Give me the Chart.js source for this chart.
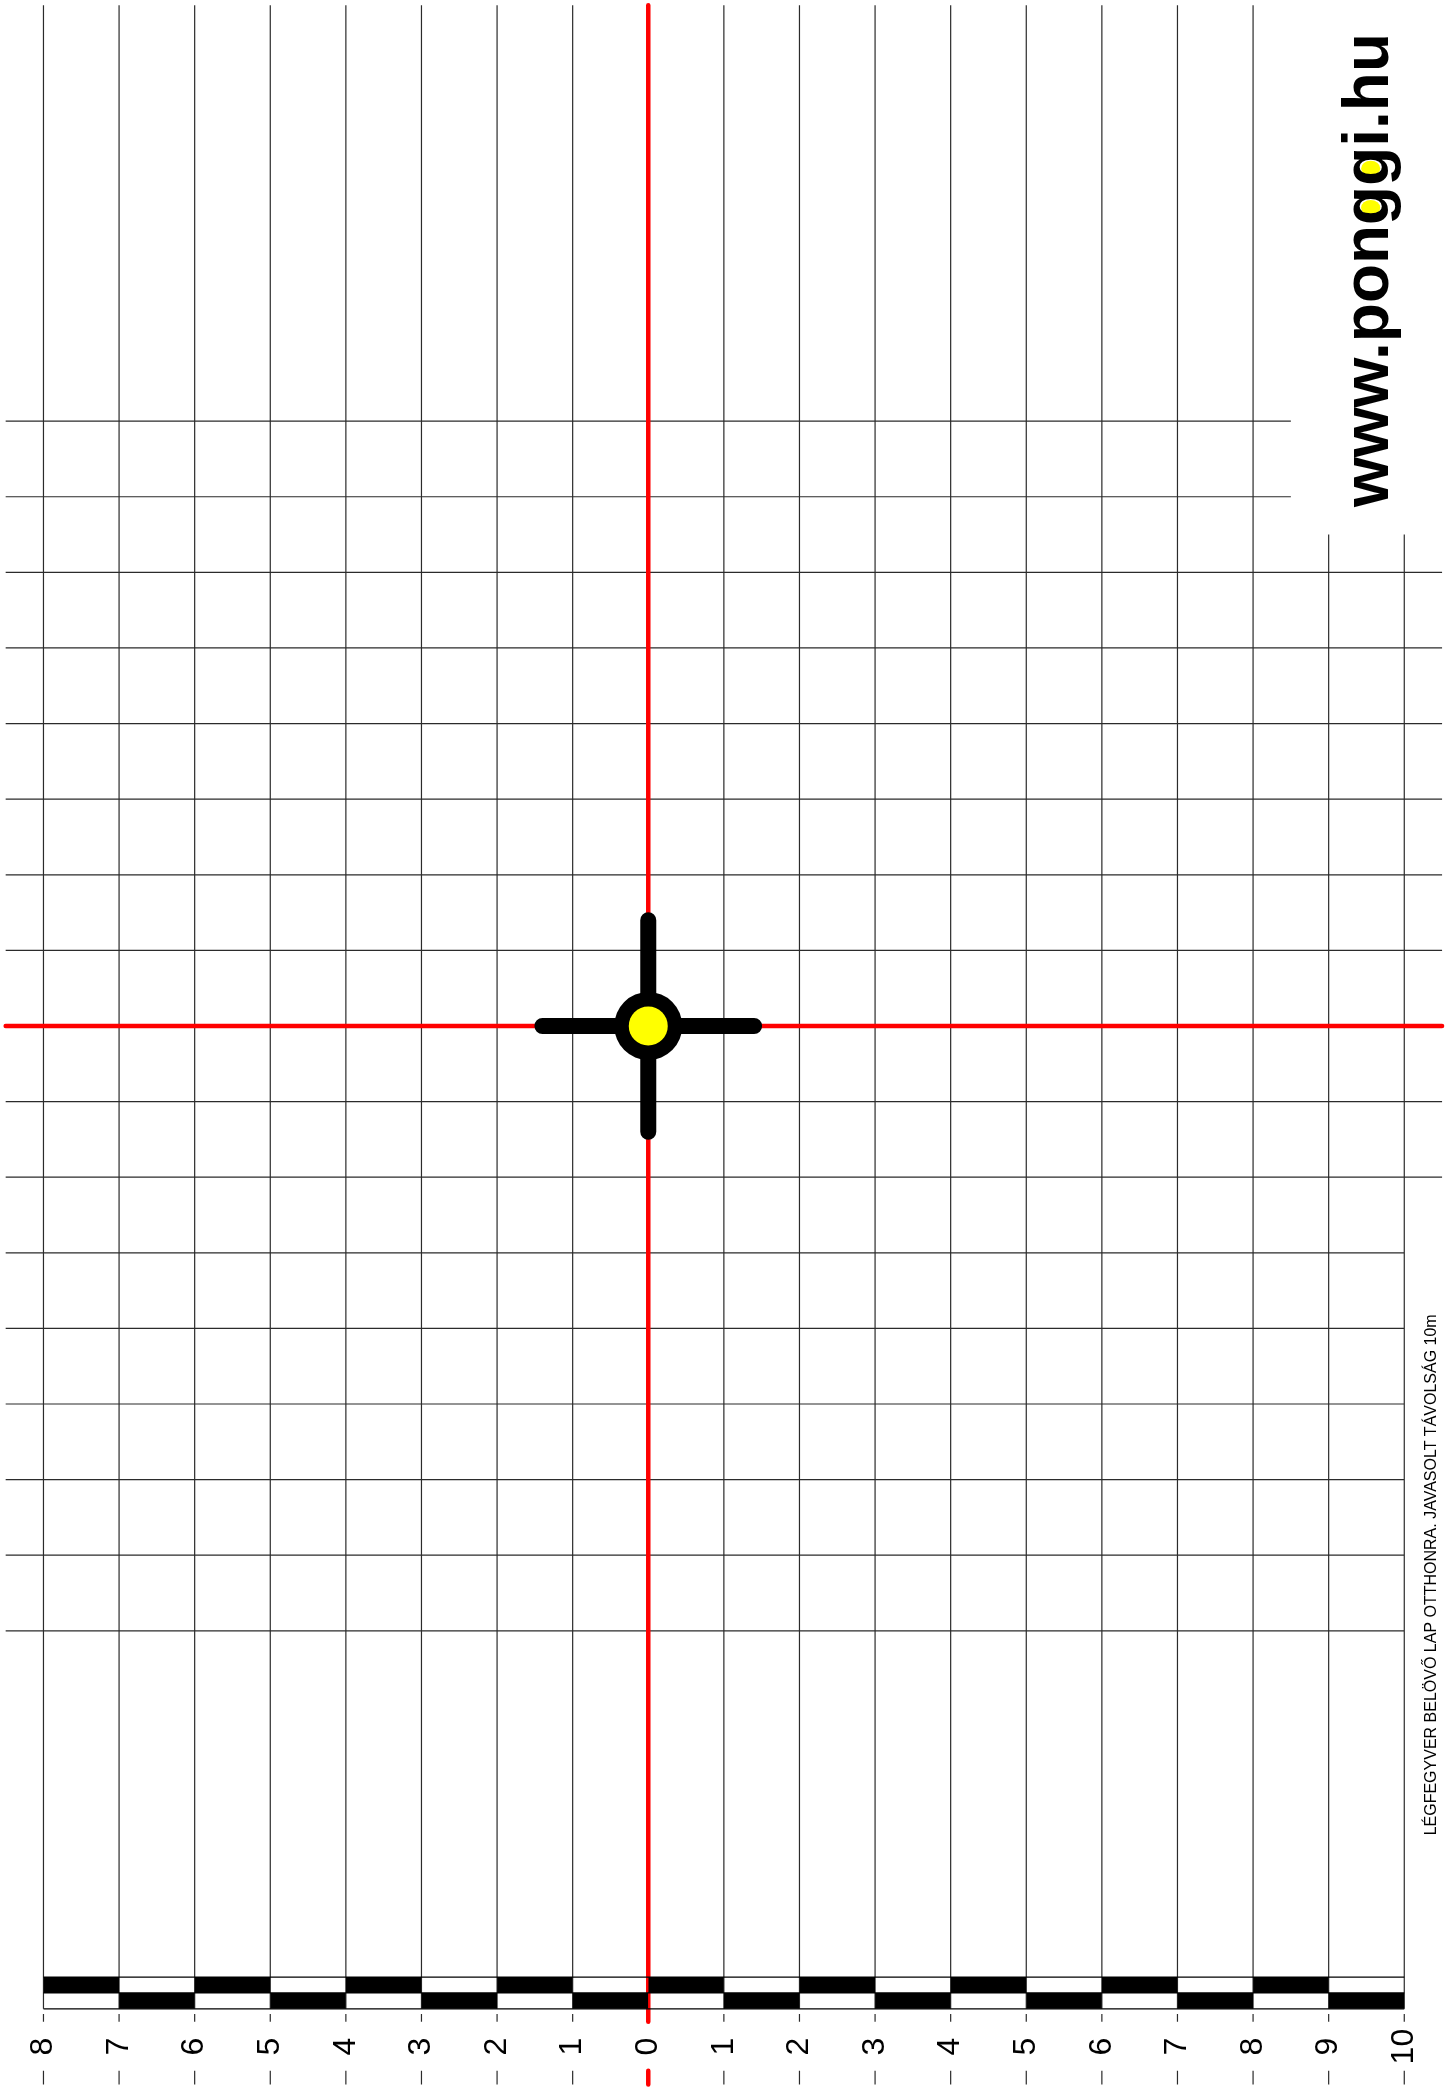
<!DOCTYPE html>
<html>
<head>
<meta charset="utf-8">
<title>Légfegyver belövő lap</title>
<script src="https://cdn.jsdelivr.net/npm/chart.js@4.4.1/dist/chart.umd.min.js"></script>
<style>
  html, body { margin: 0; padding: 0; background: #fff; }
  #wrap { width: 1446px; height: 2089px; position: relative; }
</style>
</head>
<body>
<div id="wrap"><canvas id="lap"></canvas></div>
<script>
// racs: 1 egyseg = 1 negyzet, kozeppont (0,0)
var oszlopok = [-8,-7,-6,-5,-4,-3,-2,-1,0,1,2,3,4,5,6,7,8,9,10];
var oszlopTeteje = [13.5,13.5,13.5,13.5,13.5,13.5,13.5,13.5,13.5,13.5,13.5,13.5,13.5,13.5,13.5,13.5,13.5,6.5,6.5];
var oszlopAlja = -13;

var sorok = [8,7,6,5,4,3,2,1,0,-1,-2,-3,-4,-5,-6,-7,-8];
var sorBal = -8.5;
var sorJobb = [8.5,8.5,10.5,10.5,10.5,10.5,10.5,10.5,10.5,10.5,10.5,10,10,10,10,10,10];

var cimkek = ['8','7','6','5','4','3','2','1','0','1','2','3','4','5','6','7','8','9','10'];

// sakktabla csik (fekete mezok kezdete)
var feketeFelso = [-8,-6,-4,-2,0,2,4,6,8];
var feketeAlso = [-7,-5,-3,-1,1,3,5,7,9];
var csikSzelek = [-12.58, -12.79, -13.0];

var karHossz = 1.4;

var szurke = '#2b2b2b';
var piros = '#ff0000';

// szurke racsvonalak
var racs = [];
oszlopok.forEach(function(x, i) {
  racs.push({x: x, y: oszlopTeteje[i]}, {x: x, y: oszlopAlja}, {x: x, y: null});
});
sorok.forEach(function(y, i) {
  if (y == 0) return;
  racs.push({x: sorBal, y: y}, {x: sorJobb[i], y: y}, {x: sorJobb[i], y: null});
});

// kis jelek a csik alatt
var jelek = [];
oszlopok.forEach(function(x) {
  if (x == 0) return;
  jelek.push({x: x, y: -13.07}, {x: x, y: -13.17}, {x: x, y: null});
  jelek.push({x: x, y: -13.82}, {x: x, y: -14.0}, {x: x, y: null});
});

var csikVonal = [];
csikSzelek.forEach(function(y) {
  csikVonal.push({x: -8, y: y}, {x: 10, y: y}, {x: 10, y: null});
});

var pirosVonal = [
  {x: 0, y: 13.5}, {x: 0, y: -13.17}, {x: 0, y: null},
  {x: 0, y: -13.82}, {x: 0, y: -14.0}, {x: 0, y: null},
  {x: sorBal, y: 0}, {x: 10.5, y: 0}
];

var karok = [
  {x: -karHossz, y: 0}, {x: karHossz, y: 0}, {x: 0, y: null},
  {x: 0, y: karHossz}, {x: 0, y: -karHossz}
];

var datasets = [];

datasets.push({ data: [{x: 0, y: 0}], showLine: false, pointRadius: 19.5, pointBackgroundColor: '#ffff00', pointBorderWidth: 0, order: 0 });
datasets.push({ data: [{x: 0, y: 0}], showLine: false, pointRadius: 34, pointBackgroundColor: '#000', pointBorderWidth: 0, order: 1 });
datasets.push({ data: karok, borderColor: '#000', borderWidth: 16, borderCapStyle: 'round', pointRadius: 0, order: 2 });
datasets.push({ data: csikVonal, borderColor: '#000', borderWidth: 1.3, pointRadius: 0, order: 3 });

feketeFelso.forEach(function(s) {
  datasets.push({ data: [{x: s, y: csikSzelek[0]}, {x: s + 1, y: csikSzelek[0]}], borderWidth: 0, pointRadius: 0,
    fill: {value: csikSzelek[1]}, backgroundColor: '#000', order: 4 });
});
feketeAlso.forEach(function(s) {
  datasets.push({ data: [{x: s, y: csikSzelek[1]}, {x: s + 1, y: csikSzelek[1]}], borderWidth: 0, pointRadius: 0,
    fill: {value: csikSzelek[2]}, backgroundColor: '#000', order: 4 });
});

datasets.push({ data: pirosVonal, borderColor: piros, borderWidth: 4.5, borderCapStyle: 'round', pointRadius: 0, order: 5 });
datasets.push({ data: jelek, borderColor: szurke, borderWidth: 1.2, pointRadius: 0, order: 6 });
datasets.push({ data: racs, borderColor: szurke, borderWidth: 1.2, pointRadius: 0, order: 7 });

var feliratok = {
  id: 'feliratok',
  afterDatasetsDraw: function(chart) {
    var ctx = chart.ctx;
    var sx = chart.scales.x, sy = chart.scales.y;

    // skala szamok, elforgatva
    ctx.save();
    ctx.fillStyle = '#000';
    ctx.font = '32px "Liberation Sans", Arial, sans-serif';
    ctx.textAlign = 'center';
    ctx.textBaseline = 'middle';
    oszlopok.forEach(function(x, i) {
      ctx.save();
      ctx.translate(sx.getPixelForValue(x), sy.getPixelForValue(-13.5));
      ctx.rotate(-Math.PI / 2);
      ctx.fillText(cimkek[i], 0, 0);
      ctx.restore();
    });
    ctx.restore();

    // www.ponggi.hu
    var szoveg = 'www.ponggi.hu';
    var fs = 64;
    ctx.save();
    ctx.translate(sx.getPixelForValue(9.78), sy.getPixelForValue(10.0));
    ctx.rotate(-Math.PI / 2);
    ctx.font = 'bold ' + fs + 'px "Liberation Sans", Arial, sans-serif';
    var w = ctx.measureText(szoveg).width;
    ctx.fillStyle = '#ffff00';
    [7, 8].forEach(function(idx) {
      var off = ctx.measureText(szoveg.slice(0, idx)).width;
      ctx.beginPath();
      ctx.ellipse(-w / 2 + off + 0.27 * fs, -0.265 * fs, 0.12 * fs, 0.15 * fs, 0, 0, Math.PI * 2);
      ctx.fill();
    });
    ctx.fillStyle = '#000';
    ctx.textAlign = 'left';
    ctx.textBaseline = 'alphabetic';
    ctx.fillText(szoveg, -w / 2, 0);
    ctx.restore();

    // kis felirat
    ctx.save();
    ctx.translate(sx.getPixelForValue(10.42), sy.getPixelForValue(-7.26));
    ctx.rotate(-Math.PI / 2);
    ctx.font = '16px "Liberation Sans", Arial, sans-serif';
    ctx.fillStyle = '#000';
    ctx.textAlign = 'center';
    ctx.textBaseline = 'alphabetic';
    ctx.fillText('LÉGFEGYVER BELÖVŐ LAP OTTHONRA. JAVASOLT TÁVOLSÁG 10m', 0, 0);
    ctx.restore();
  }
};

var lap = new Chart(document.getElementById('lap'), {
  type: 'line',
  data: { datasets: datasets },
  options: {
    responsive: true,
    maintainAspectRatio: false,
    animation: false,
    events: [],
    layout: { padding: 0, autoPadding: false },
    spanGaps: false,
    scales: {
      x: { type: 'linear', min: -8.575, max: 10.552, display: false },
      y: { type: 'linear', min: -14.061, max: 13.571, display: false }
    },
    plugins: {
      legend: { display: false },
      tooltip: { enabled: false }
    }
  },
  plugins: [feliratok]
});
</script>
</body>
</html>
